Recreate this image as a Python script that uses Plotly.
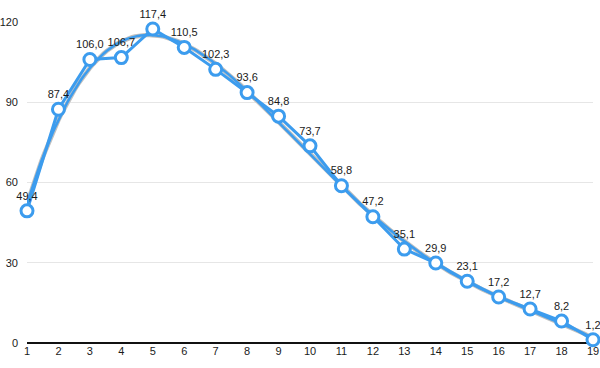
import numpy as np
import plotly.graph_objects as go

x_values = list(range(1, 20))
y_values = [49.4, 87.4, 106.0, 106.7, 117.4, 110.5, 102.3, 93.6, 84.8, 73.7,
            58.8, 47.2, 35.1, 29.9, 23.1, 17.2, 12.7, 8.2, 1.2]
y_ticks = [0, 30, 60, 90, 120]
x_ticks = x_values

BLUE = "#3c9cee"

# polynomial trendline fitted to the data (as in the original chart)
coef = np.polyfit(x_values, y_values, 4)
xs = np.linspace(1, 19, 200)
trend = np.polyval(coef, xs)

fig = go.Figure()
fig.add_trace(go.Scatter(x=xs, y=trend, mode="lines",
                         line=dict(color="#c0c0c0", width=4.5), hoverinfo="skip"))
fig.add_trace(go.Scatter(x=xs, y=trend, mode="lines",
                         line=dict(color=BLUE, width=2.5), hoverinfo="skip"))
fig.add_trace(go.Scatter(
    x=x_values, y=y_values, mode="lines+markers+text",
    line=dict(color=BLUE, width=3),
    marker=dict(size=12, color="white", line=dict(color=BLUE, width=3)),
    text=[f"{v:.1f}".replace(".", ",") for v in y_values],
    textposition="top center",
    textfont=dict(family="Liberation Sans, Arial, sans-serif", size=11, color="#1a1a1a"),
    cliponaxis=False,
))

fig.update_layout(
    width=600, height=368,
    margin=dict(l=27, r=7, t=22, b=25),
    paper_bgcolor="white", plot_bgcolor="white",
    showlegend=False,
    font=dict(family="Liberation Sans, Arial, sans-serif", size=11, color="#1a1a1a"),
    xaxis=dict(range=[1, 19], tickvals=x_ticks, showgrid=False, zeroline=False,
               showline=False, ticks="", tickfont=dict(size=11), automargin=False),
    yaxis=dict(range=[0, 120], tickvals=y_ticks, showgrid=True, gridcolor="#e6e6e6",
               gridwidth=1, zeroline=True, zerolinecolor="#111", zerolinewidth=1.5,
               showline=False, ticks="", ticklabelstandoff=8, tickfont=dict(size=11),
               automargin=False),
)
fig.write_html("out.html", config={"displayModeBar": False},
               post_script="document.body.style.margin='0';")
